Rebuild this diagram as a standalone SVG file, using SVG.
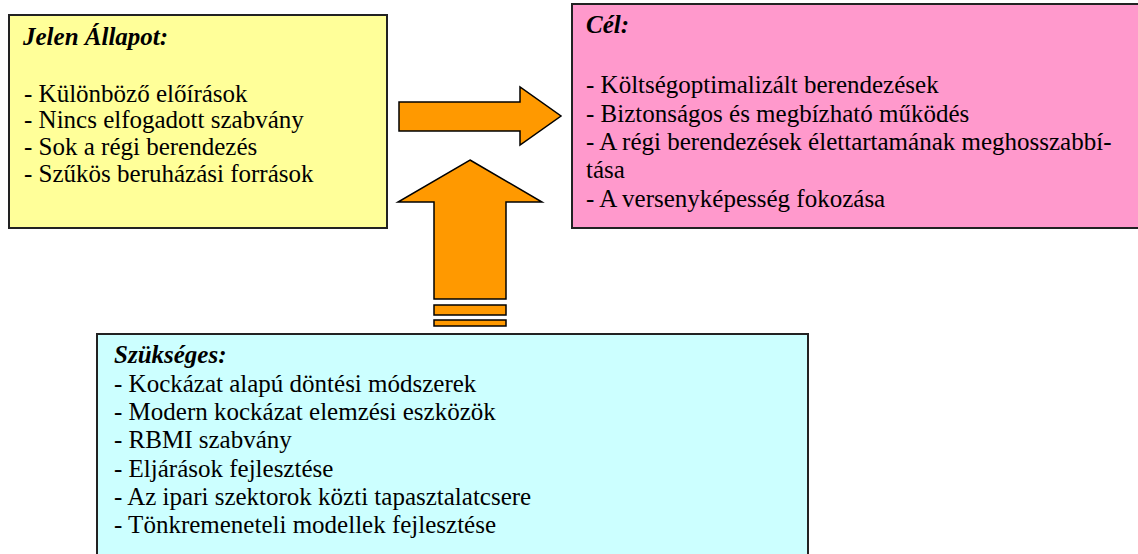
<svg xmlns="http://www.w3.org/2000/svg" width="1138" height="554" viewBox="0 0 1138 554">
<style>
.box{stroke:#222;stroke-width:2}
text{font-family:'Liberation Serif','Times New Roman','DejaVu Serif',serif;font-size:25px;fill:#000}
.h{font-weight:bold;font-style:italic}
.arr{fill:#FF9900;stroke:#000;stroke-width:1.5;stroke-linejoin:miter}
</style>
<rect width="1138" height="554" fill="#fff"/>
<g id="jelen">
<rect class="box" x="9" y="15" width="378" height="213" fill="#FFFF99"/>
<text class="h" x="23" y="45">Jelen Állapot:</text>
<text x="24" y="102">- Különböző előírások</text>
<text x="24" y="128">- Nincs elfogadott szabvány</text>
<text x="24" y="155">- Sok a régi berendezés</text>
<text x="24" y="182">- Szűkös beruházási források</text>
</g>
<g id="cel">
<rect class="box" x="572" y="4" width="580" height="224" fill="#FF99CC"/>
<text class="h" x="586" y="33">Cél:</text>
<text x="586" y="93">- Költségoptimalizált berendezések</text>
<text x="586" y="122">- Biztonságos és megbízható működés</text>
<text x="586" y="150">- A régi berendezések élettartamának meghosszabbí-</text>
<text x="586" y="178">tása</text>
<text x="586" y="207">- A versenyképesség fokozása</text>
</g>
<g id="szukseges">
<rect class="box" x="97" y="334" width="711" height="240" fill="#CCFFFF"/>
<text class="h" x="114" y="363">Szükséges:</text>
<text x="114" y="392">- Kockázat alapú döntési módszerek</text>
<text x="114" y="420">- Modern kockázat elemzési eszközök</text>
<text x="114" y="448">- RBMI szabvány</text>
<text x="114" y="477">- Eljárások fejlesztése</text>
<text x="114" y="505">- Az ipari szektorok közti tapasztalatcsere</text>
<text x="114" y="533">- Tönkremeneteli modellek fejlesztése</text>
</g>
<g id="connectors">
<polygon class="arr" points="399,102 520,102 520,87 561,116 520,145 520,131 399,131"/>
<polygon class="arr" points="470,160 542,202 506,202 506,299 434,299 434,202 398,202"/>
<rect class="arr" x="434" y="305" width="72" height="10"/>
<rect class="arr" x="434" y="320" width="72" height="6"/>
</g>
</svg>
